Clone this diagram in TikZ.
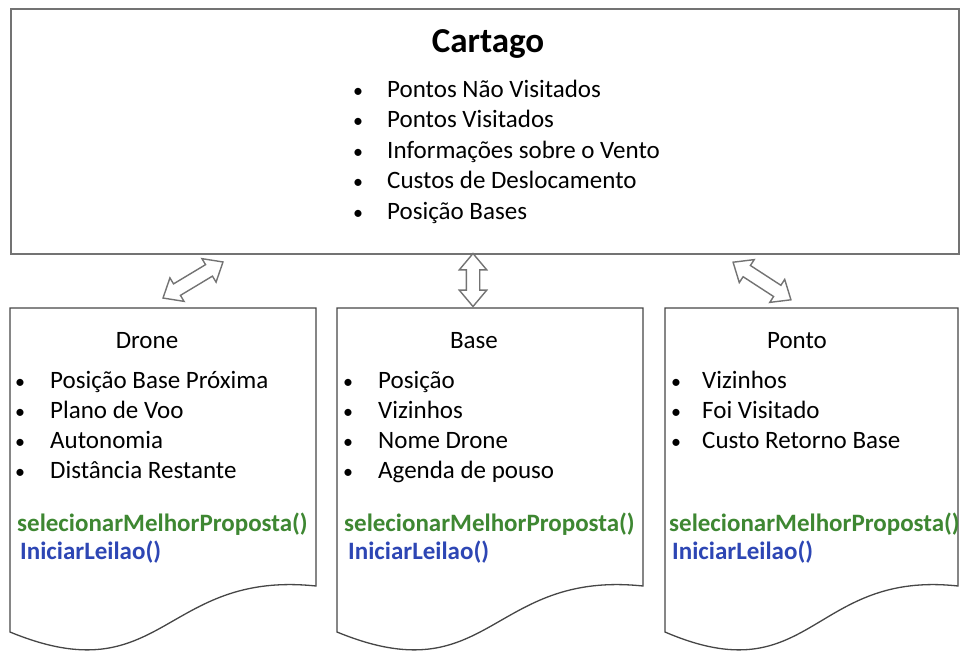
\documentclass[tikz,border=0pt]{standalone}
\usepackage{fontspec}
\setmainfont{Carlito}
\usetikzlibrary{shapes.arrows}
\definecolor{methgreen}{RGB}{62,135,50}
\definecolor{methblue}{RGB}{45,70,180}
\definecolor{edgegray}{RGB}{115,115,115}
\definecolor{docgray}{RGB}{70,70,70}

% a page with a wavy lower edge, from x=#1 to x=#2
\newcommand\docpage[3]{%
  \draw[docline] (#1,308) -- (#2,308) -- (#2,586)
    .. controls ({(#1+#2)/2},570) and ({(#1+#2)/2},695) .. (#1,632) -- cycle;
  \coordinate (#3) at ({(#1+#2)/2},308);
}

\begin{document}
\begin{tikzpicture}[x=1pt,y=-1pt,
  docline/.style={draw=docgray, line width=1.3pt, fill=white},
  line/.style={inner sep=0pt, text height=16pt, text depth=5pt, yshift=-3pt},
  txt/.style={line, anchor=west, font=\fontsize{25}{30}\selectfont},
  bul/.style={line, anchor=center, font=\fontsize{20}{24}\selectfont},
  heading/.style={line, anchor=center, font=\fontsize{25}{30}\selectfont},
  meth/.style={line, anchor=west, font=\fontsize{25}{30}\selectfont\bfseries},
  link/.style={double arrow, draw=edgegray, fill=white, line width=1.4pt,
    inner xsep=0pt, inner ysep=6pt, double arrow head extend=7pt,
    double arrow tip angle=80}
]
\useasboundingbox (0,0) rectangle (963,651);

% shared store at the top
\node (cartago) [draw=edgegray, line width=1.6pt, anchor=north west,
  minimum width=948pt, minimum height=245pt, inner sep=0pt] at (10,8) {};
\node (title) [anchor=center, inner sep=0pt,
  font=\fontsize{35}{40}\selectfont\bfseries] at (488,44) {Cartago};
\foreach \y/\t [count=\i] in {89/Pontos Não Visitados, 119/Pontos Visitados,
    150/Informações sobre o Vento, 180/Custos de Deslocamento, 211/Posição Bases}{
  \node (cb\i) [bul] at (358,\y) {•};
  \node (ct\i) [txt] at (387,\y) {\t};
}

% the three agents
\docpage{10}{316}{droneTop}
\docpage{337}{643}{baseTop}
\docpage{665}{958}{pontoTop}

\node (drone) [heading] at (147,340) {Drone};
\foreach \y/\t [count=\i] in {380/Posição Base Próxima, 410/Plano de Voo,
    440/Autonomia, 470/Distância Restante}{
  \node (db\i) [bul] at (20,\y) {•};
  \node (dt\i) [txt] at (50,\y) {\t};
}
\node (dsel) [meth, text=methgreen] at (17,523) {selecionarMelhorProposta()};
\node (dini) [meth, text=methblue] at (20,551) {IniciarLeilao()};

\node (base) [heading] at (474,340) {Base};
\foreach \y/\t [count=\i] in {380/Posição, 410/Vizinhos,
    440/Nome Drone, 470/Agenda de pouso}{
  \node (bb\i) [bul] at (348,\y) {•};
  \node (bt\i) [txt] at (378,\y) {\t};
}
\node (bsel) [meth, text=methgreen] at (344,523) {selecionarMelhorProposta()};
\node (bini) [meth, text=methblue] at (348,551) {IniciarLeilao()};

\node (ponto) [heading] at (797,340) {Ponto};
\foreach \y/\t [count=\i] in {380/Vizinhos, 410/Foi Visitado,
    440/Custo Retorno Base}{
  \node (pb\i) [bul] at (676,\y) {•};
  \node (pt\i) [txt] at (702,\y) {\t};
}
\node (psel) [meth, text=methgreen] at (669,523) {selecionarMelhorProposta()};
\node (pini) [meth, text=methblue] at (672,551) {IniciarLeilao()};

% two-way exchange between the store and each agent
\node (linkDrone) [link, minimum height=70pt, rotate=31] at (193,280) {};
\node (linkBase)  [link, minimum height=53pt, rotate=90] at (473,280) {};
\node (linkPonto) [link, minimum height=69pt, rotate=-33] at (762,281) {};
\end{tikzpicture}
\end{document}
